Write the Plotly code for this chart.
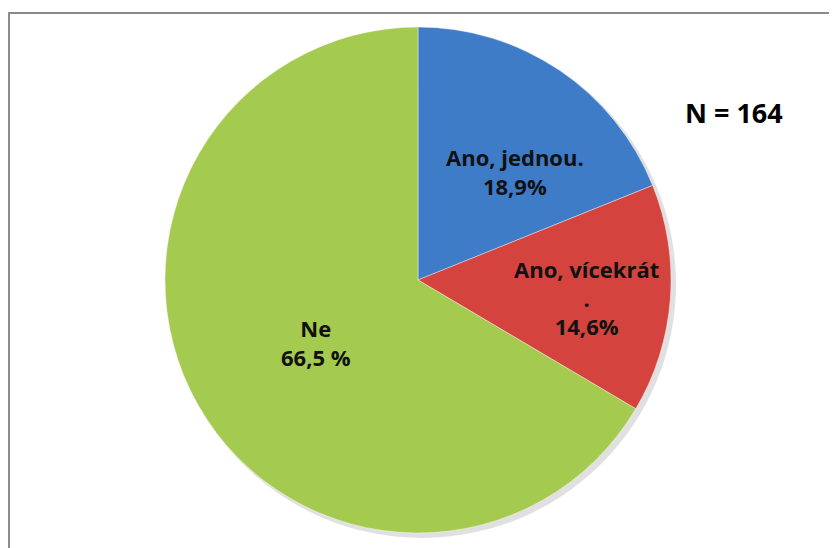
import plotly.graph_objects as go

labels = ["Ano, jednou.", "Ano, vícekrát.", "Ne"]
values = [18.9, 14.6, 66.5]
label_texts = ["Ano, jednou.<br>18,9%", "Ano, vícekrát<br>.<br>14,6%", "Ne<br>66,5 %"]
colors = ["#3E7CC8", "#D4433E", "#A4CA50"]

W, H = 837, 548
OFF = 8  # page body margin offset
cx, cy, r = 418 - OFF, 280 - OFF, 253


def px(x):
    return (x - OFF) / W


def py(y):
    return 1 - (y - OFF) / H


fig = go.Figure()
fig.add_trace(go.Pie(
    labels=labels, values=values, sort=False, direction="clockwise", rotation=0,
    marker=dict(colors=colors, line=dict(color="rgba(255,255,255,0.4)", width=1)),
    textinfo="none", hoverinfo="label+percent", showlegend=False,
    domain=dict(x=[(cx - r) / W, (cx + r) / W], y=[1 - (cy + r) / H, 1 - (cy - r) / H]),
))

# soft shadow
fig.add_shape(type="circle", xref="paper", yref="paper",
              x0=(cx - r + 3) / W, x1=(cx + r + 5) / W,
              y0=1 - (cy + r + 5) / H, y1=1 - (cy - r + 3) / H,
              fillcolor="rgba(0,0,0,0.12)", line=dict(width=0), layer="below")

text_pos = [(515, 171), (586, 297), (316, 342)]
for t, (x, y) in zip(label_texts, text_pos):
    fig.add_annotation(x=px(x), y=py(y), xref="paper", yref="paper", text=t,
                       showarrow=False, align="center", xanchor="center", yanchor="middle",
                       font=dict(family="Open Sans", size=22, color="#111111", weight="bold"))

fig.add_annotation(x=px(734), y=py(113), xref="paper", yref="paper", text="N = 164",
                   showarrow=False, xanchor="center", yanchor="middle",
                   font=dict(family="Open Sans", size=27, color="#000000", weight="bold"))

fig.add_shape(type="rect", xref="paper", yref="paper", x0=px(9), x1=1.05, y0=-0.05, y1=py(13),
              line=dict(color="#8C8C8C", width=2), layer="below")

fig.update_layout(width=W, height=H, margin=dict(l=0, r=0, t=0, b=0),
                  paper_bgcolor="white", plot_bgcolor="white")
fig.write_html("out.html")
